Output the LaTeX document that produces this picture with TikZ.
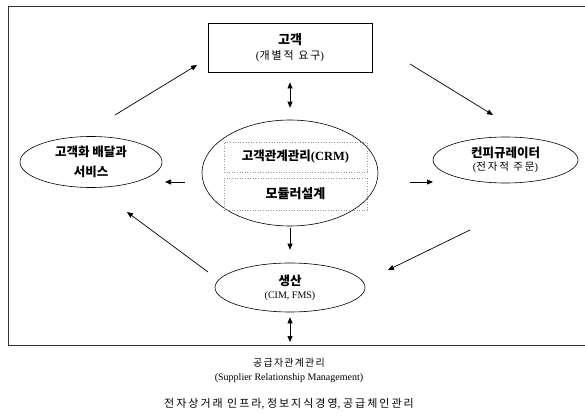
\documentclass[tikz,border=0pt]{standalone}
\usepackage{fontspec}
\setmainfont{Liberation Serif}
\newfontfamily\kr{Noto Sans CJK KR}
\newfontfamily\krs[LetterSpace=12]{Noto Sans CJK KR}
\newfontfamily\krw[LetterSpace=18]{Noto Sans CJK KR}
\usetikzlibrary{shapes.geometric,arrows.meta}
\tikzset{
  arr/.style={-{Triangle[length=6pt,width=5pt]}, line width=0.7pt},
  darr/.style={{Triangle[length=6pt,width=5pt]}-{Triangle[length=6pt,width=5pt]}, line width=0.7pt},
  ell/.style={ellipse, draw, line width=0.6pt, inner sep=0pt, align=center},
  dbox/.style={draw=gray!80, dotted, line width=0.6pt, inner sep=0pt, align=center},
  frame/.style={line width=0.9pt, draw=black!80},
}
\begin{document}
\begin{tikzpicture}[x=1pt,y=-1pt]
\useasboundingbox (0,0) rectangle (585,419);
% frame (open on the right)
\coordinate (ftr) at (585,6);
\coordinate (ftl) at (8,6);
\coordinate (fbl) at (8,345);
\coordinate (fbr) at (585,345);
\coordinate (fbm) at (290,345);
\draw[frame] (ftr) -- (ftl) -- (fbl) -- (fbr);

% top box
\node[draw, line width=0.8pt, minimum width=164pt, minimum height=49pt, align=center] (top) at (290,47.5)
  {{\fontsize{13}{14}\kr\bfseries 고객}\\[3pt]{\fontsize{11}{13}\rmfamily(\krw 개별적 요구\unskip\rmfamily)}};

% centre ellipse
\node[ell, minimum width=176pt, minimum height=106pt] (cen) at (290,173) {};
\node[dbox, minimum width=143pt, minimum height=30pt] (crm) at (295.5,157)
  {\fontsize{12.5}{14}\kr\bfseries 고객관계관리\rmfamily(CRM)};
\node[dbox, minimum width=143pt, minimum height=32pt] (mod) at (295.5,194)
  {\fontsize{13}{14}\kr\bfseries 모듈러설계};

% side ellipses
\node[ell, minimum width=142pt, minimum height=51pt, font={\fontsize{12.5}{20}\kr\bfseries}] (lft) at (91,162)
  {고객화 배달과\\서비스};
\node[ell, minimum width=145pt, minimum height=46pt] (rgt) at (505.5,160)
  {{\fontsize{12.5}{14}\kr\bfseries 컨피규레이터}\\[1pt]{\fontsize{10.5}{12}\rmfamily(\krw 전자적 주문\rmfamily)}};

% bottom ellipse
\node[ell, minimum width=150pt, minimum height=49pt] (bot) at (290,287.5)
  {{\fontsize{12.5}{14}\kr\bfseries 생산}\\[1pt]{\fontsize{10}{12}\rmfamily (CIM, FMS)}};

% vertical arrows
\draw[darr, shorten <=10pt, shorten >=12pt] (top.south) -- (cen.north);
\draw[arr, shorten <=2pt, shorten >=13pt] (cen.south) -- (bot.north);
\draw[darr, shorten <=5pt, shorten >=3pt] (bot.south) -- (fbm);

% horizontal arrows
\coordinate (la) at (185,182);
\coordinate (lb) at (165,182);
\coordinate (ra) at (410,182);
\coordinate (rb) at (433,182);
\draw[arr] (la) -- (lb);
\draw[arr] (ra) -- (rb);

% diagonal arrows
\coordinate (d1a) at (115,115);
\coordinate (d1b) at (197,65);
\coordinate (d2a) at (410,64);
\coordinate (d2b) at (493,115);
\coordinate (d3a) at (470,230);
\coordinate (d3b) at (388,270);
\coordinate (d4a) at (208,272);
\coordinate (d4b) at (127,212);
\draw[arr] (d1a) -- (d1b);
\draw[arr] (d2a) -- (d2b);
\draw[arr] (d3a) -- (d3b);
\draw[arr] (d4a) -- (d4b);

% bottom texts
\node[inner sep=0pt] (srm1) at (289,363) {\fontsize{10}{12}\krs 공급자관계관리};
\node[inner sep=0pt] (srm2) at (289,378) {\fontsize{10}{12}\rmfamily (Supplier Relationship Management)};
\node[inner sep=0pt] (infra) at (289,404) {\fontsize{11}{12}\krw 전자상거래 인프라\rmfamily, \krw 정보지식경영\rmfamily, \krw 공급체인관리};
\end{tikzpicture}
\end{document}
